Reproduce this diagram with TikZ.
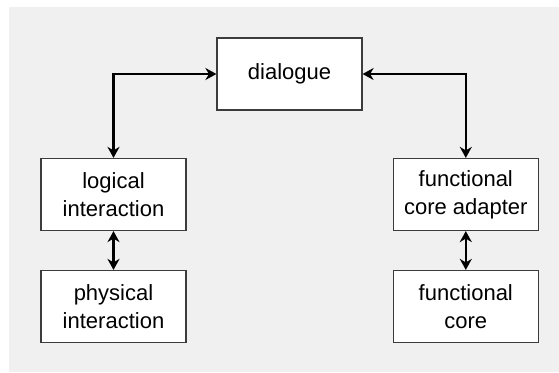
\documentclass[tikz,border=0pt]{standalone}
\usepackage{fontspec}
\setmainfont{Liberation Sans}
\usetikzlibrary{arrows.meta}
\definecolor{panel}{HTML}{F0F0F0}
\definecolor{frame}{HTML}{3C3C3C}
\tikzset{
  block/.style={draw=frame, line width=1.2pt, fill=white, minimum width=145pt,
    minimum height=72pt, inner sep=0pt, align=center,
    font=\fontsize{22}{28}\selectfont},
  link/.style={line width=2.4pt, black,
    {Stealth[length=11pt,width=12pt,inset=3.5pt]}-{Stealth[length=11pt,width=12pt,inset=3.5pt]}}
}
\begin{document}
\begin{tikzpicture}[x=1pt,y=-1pt]
  \useasboundingbox (0,0) rectangle (559,372);
  \fill[panel] (9,7) rectangle (559,372);

  \node[block] (dlg)  at (289.5,74)  {dialogue};
  \node[block] (log)  at (113.5,194.5) {logical\\interaction};
  \node[block] (phy)  at (113.5,306.5) {physical\\interaction};
  \node[block] (fca)  at (465.8,194.5) {functional\\core adapter};
  \node[block] (fc)   at (465.8,306.5) {functional\\core};

  \draw[link] (log.north) |- (dlg.west);
  \draw[link] (fca.north) |- (dlg.east);
  \draw[link] (log.south) -- (phy.north);
  \draw[link] (fca.south) -- (fc.north);
\end{tikzpicture}
\end{document}
